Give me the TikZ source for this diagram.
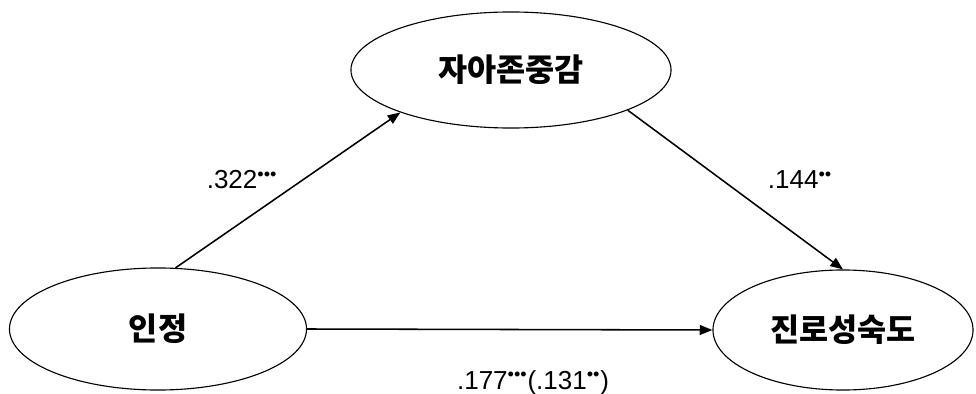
\documentclass[tikz,border=0pt]{standalone}
\usepackage{fontspec}
\setmainfont{Liberation Sans}
\newfontfamily\kr{Noto Sans CJK KR}
\usetikzlibrary{shapes.geometric,arrows.meta}
\newcommand\stars[1]{\textsuperscript{#1}}
\begin{document}
\begin{tikzpicture}[x=0.025cm,y=-0.025cm,
        var/.style={draw,ellipse,inner sep=0pt,line width=0.8pt,
            font=\kr\bfseries\fontsize{22.5}{26}\selectfont},
        path/.style={-{Triangle[length=9pt,width=7pt]},line width=1.1pt},
        coef/.style={font=\fontsize{18.5}{22}\selectfont}]
    \useasboundingbox (0,0) rectangle (976,394);
    \node [var,minimum width=8cm,minimum height=2.9cm] (self) at (511,70) {자아존중감};
    \node [var,minimum width=7.425cm,minimum height=3.05cm] (rec) at (158,329) {인정};
    \node [var,minimum width=6.5cm,minimum height=3cm] (career) at (843,330) {진로성숙도};
    \draw [path] (rec.74) -- (self.201);
    \draw [path] (self.341) -- (career.north);
    \draw [path] (rec.east) -- (career.west);
    \node [coef] (a) at (242,180) {.322\stars{\textbullet\textbullet\textbullet}};
    \node [coef] (b) at (800,180) {.144\stars{\textbullet\textbullet}};
    \node [coef] (c) at (533,383) {.177\stars{\textbullet\textbullet\textbullet}(.131\stars{\textbullet\textbullet})};
\end{tikzpicture}
\end{document}
